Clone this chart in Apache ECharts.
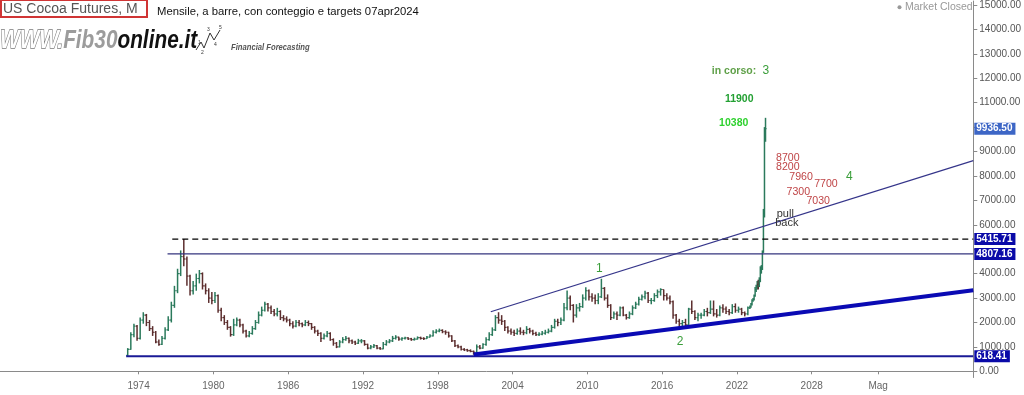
<!DOCTYPE html>
<html>
<head>
<meta charset="utf-8">
<script src="https://cdn.jsdelivr.net/npm/echarts@6/dist/echarts.min.js"></script>
<style>
html,body{margin:0;padding:0;background:#fff;}
#chart{width:1024px;height:395px;}
</style>
</head>
<body>
<div id="chart"></div>
<script>
// ---------------- DATA ----------------
// Quarterly OHLC (1973 Q1 .. 2022 Q4); open of each bar = previous close
const quarterStartYear = 1973;
const firstOpen = 650;
const qClose = [
  900,1500,1850,1350, 2100,2300,2000,1750, 1600,1200,1100,1350, 1700,2100,2700,3300,
  4000,4700,4600,3900, 3300,3500,3800,4000, 3500,3300,3000,2900, 3100,2500,2200,2000,
  1800,1500,1900,2100, 1900,1650,1450,1550, 1750,2000,2300,2500, 2750,2600,2450,2350,
  2450,2200,2150,2100, 1950,1850,2000,1950, 1900,2000,1950,1800, 1650,1550,1350,1450,
  1550,1300,1150,1000, 1200,1300,1350,1250, 1200,1150,1250,1250, 1100,950,1000,1050,
  950,920,1100,1200, 1250,1350,1400,1320, 1350,1370,1330,1300, 1320,1380,1350,1340,
  1400,1450,1600,1650, 1680,1620,1600,1450, 1250,1050,1000,900, 880,850,820,780,
  1000,950,1100,1300, 1500,1700,2200,2100, 2050,1800,1650,1600, 1550,1650,1600,1580,
  1720,1650,1550,1500, 1520,1560,1600,1650, 1800,2050,2000,2100, 2600,3000,2700,2300,
  2600,2650,3000,3300, 3050,3000,2900,3050, 3400,3000,2700,2200, 2350,2300,2600,2300,
  2200,2350,2600,2750, 2950,3050,3200,2900, 2900,3100,3250,3350, 3100,3000,2850,2300,
  2050,1950,2000,1900, 2550,2450,2200,2300, 2300,2450,2400,2550, 2350,2300,2600,2550,
  2450,2400,2650,2500, 2550,2400,2350,2600
];
const qHigh = [
  950,1600,1950,1900, 2200,2420,2350,2100, 1850,1650,1300,1450, 1800,2250,2850,3500,
  4200,4950,5420,4700, 3950,3700,4000,4150, 4050,3600,3400,3250, 3250,3150,2600,2300,
  2100,1850,2150,2200, 2150,1950,1700,1650, 1850,2100,2450,2650, 2850,2800,2700,2550,
  2600,2500,2300,2250, 2150,2050,2100,2100, 2000,2100,2080,1980, 1850,1700,1600,1550,
  1650,1600,1350,1200, 1280,1400,1450,1380, 1300,1250,1330,1320, 1280,1130,1080,1120,
  1080,1000,1200,1280, 1320,1450,1480,1420, 1400,1420,1400,1370, 1380,1430,1420,1400,
  1450,1520,1680,1720, 1750,1720,1680,1620, 1480,1280,1100,1050, 950,920,900,850,
  1100,1080,1150,1400, 1600,1800,2300,2420, 2300,2100,1850,1750, 1700,1750,1800,1700,
  1850,1780,1700,1620, 1600,1650,1700,1750, 1900,2150,2150,2200, 2800,3310,3100,2750,
  2750,2800,3150,3440, 3350,3200,3150,3200, 3790,3450,3150,2750, 2450,2450,2650,2650,
  2350,2450,2700,2850, 3050,3150,3300,3250, 3000,3200,3350,3400, 3350,3200,3100,2900,
  2350,2150,2100,2150, 2600,2900,2500,2400, 2400,2550,2600,2900, 2900,2550,2700,2750,
  2650,2550,2750,2780, 2650,2600,2450,2650
];
const qLow = [
  620,880,1400,1250, 1300,1950,1850,1650, 1450,1150,1050,1080, 1300,1650,2000,2600,
  3200,3900,4300,3500, 3100,3150,3300,3600, 3350,3150,2800,2750, 2800,2400,2050,1900,
  1700,1420,1450,1850, 1800,1550,1380,1400, 1500,1700,1950,2250, 2450,2450,2350,2250,
  2250,2100,2050,2000, 1850,1750,1800,1850, 1800,1850,1850,1700, 1550,1450,1200,1300,
  1400,1250,1050,950, 980,1150,1250,1150, 1120,1080,1120,1150, 1050,900,900,950,
  900,880,900,1050, 1150,1200,1300,1250, 1250,1300,1280,1250, 1260,1300,1300,1280,
  1320,1380,1430,1550, 1600,1560,1500,1380, 1200,1000,940,850, 830,800,780,680,
  760,900,920,1050, 1250,1450,1650,1950, 1900,1650,1550,1500, 1450,1500,1500,1480,
  1520,1550,1480,1450, 1450,1480,1500,1550, 1600,1750,1850,1900, 2050,2500,2500,2000,
  2200,2450,2600,2900, 2900,2850,2750,2750, 3000,2900,2600,2100, 2150,2100,2250,2250,
  2120,2150,2300,2550, 2700,2900,2950,2800, 2750,2850,3000,3100, 2900,2900,2750,2150,
  1950,1820,1850,1850, 1900,2350,2100,2050, 2150,2250,2250,2350, 2250,2200,2250,2400,
  2350,2300,2350,2400, 2400,2300,2250,2300
];
// Monthly OHLC (Jan 2023 .. Apr 2024)
const monthStartYear = 2023;
const mClose = [2650,2750,2900,2950,3100,3350,3450,3550,3500,3700,4150,4200,4900,6500,9850,9936.5];
const mHigh  = [2700,2800,2950,3000,3150,3450,3550,3700,3750,3850,4300,4350,4950,6650,10000,10380];
const mLow   = [2550,2600,2700,2850,2900,3050,3250,3350,3350,3450,3650,4000,4150,4850,6300,9400];

// Price levels and trendlines (year, price)
const supportLow = 618.41, resistMid = 4807.16, peakLevel = 5415.71, lastPrice = 9936.50;
const levelStarts = {support: 1973.0, resist: 1976.32, peak: 1976.70};
const upperTrend = [[2002.25, 2440], [2040.96, 8629]];
const lowerTrend = [[2000.88, 690], [2040.96, 3320]];

// Axis ticks
const yearTicks = [1974, 1980, 1986, 1992, 1998, 2004, 2010, 2016, 2022, 2028, 2033.33];
const yearTickLabels = ['1974','1980','1986','1992','1998','2004','2010','2016','2022','2028','Mag'];
const priceTicks = [0,1000,2000,3000,4000,5000,6000,7000,8000,9000,10000,11000,12000,13000,14000,15000];
const priceLabelTicks = [0,1000,2000,3000,4000,6000,7000,8000,9000,11000,12000,13000,14000,15000];

// Annotations: text, year, price
const annoText  = ['in corso:','3','11900','10380','8700','8200','7960','7700','7300','7030','4','pull','back','1','2'];
const annoYear  = [2021.76,2024.32,2022.18,2021.74,2026.08,2026.08,2027.14,2029.14,2026.92,2028.52,2031.02,2025.88,2026.0,2010.96,2017.44];
const annoPrice = [12275,12304,11148,10152,8751,8371,7934,7649,7350,6983,7975,6452,6068,4218,1196];
const annoKind  = ['wave','waveNum','target1','target0','red','red','red','red','red','red','waveNum','note','note','waveNum','waveNum'];

// ---------------- BUILD ----------------
const X_MIN = 1962.88, X_MAX = 2040.96, Y_MIN = -253, Y_MAX = 15163;
const bars = [];
let prev = firstOpen;
for (let i = 0; i < qClose.length; i++) {
  const x = quarterStartYear + i * 0.25 + 0.125;
  bars.push([x, prev, qHigh[i], qLow[i], qClose[i], 0.25]);
  prev = qClose[i];
}
for (let i = 0; i < mClose.length; i++) {
  const x = monthStartYear + i / 12 + 1 / 24;
  bars.push([x, prev, mHigh[i], mLow[i], mClose[i], 1 / 12]);
  prev = mClose[i];
}

const UP = '#2b7a5c', DOWN = '#5c2e2e';

const annoStyles = {
  wave:    {color: '#5fa048', fontWeight: 'bold', fontSize: 10.5},
  waveNum: {color: '#3a9e3a', fontWeight: 'normal', fontSize: 12},
  target1: {color: '#23a033', fontWeight: 'bold', fontSize: 10.5},
  target0: {color: '#2fd12f', fontWeight: 'bold', fontSize: 10.5},
  red:     {color: '#bf4446', fontWeight: 'normal', fontSize: 10.6},
  note:    {color: '#333333', fontWeight: 'normal', fontSize: 11}
};
const annoData = annoText.map((t, i) => ({
  value: [annoYear[i], annoPrice[i]],
  label: Object.assign({show: true, position: 'inside', formatter: t, fontFamily: 'Liberation Sans'}, annoStyles[annoKind[i]])
}));

const priceBoxes = [
  {v: lastPrice, bg: '#3d66c6'},
  {v: peakLevel, bg: '#0a0aa8'},
  {v: resistMid, bg: '#0a0aa8'},
  {v: supportLow, bg: '#0a0aa8'}
].map(b => ({
  value: [X_MAX, b.v],
  label: {show: true, position: 'right', distance: 1, formatter: b.v.toFixed(2),
    backgroundColor: b.bg, color: '#fff', fontWeight: 'bold', fontSize: 10,
    fontFamily: 'Liberation Sans', padding: [1, 3, 0, 2], lineHeight: 11}
}));

const chart = echarts.init(document.getElementById('chart'), null, {renderer: 'canvas'});
chart.setOption({
  animation: false,
  backgroundColor: '#ffffff',
  grid: {left: 0, right: 48, top: 0, bottom: 17.5, containLabel: false},
  xAxis: {
    type: 'value', min: X_MIN, max: X_MAX,
    splitLine: {show: false},
    axisLine: {show: true, lineStyle: {color: '#8a8a8a', width: 1}},
    axisTick: {show: true, length: 3, customValues: yearTicks, lineStyle: {color: '#8a8a8a'}},
    axisLabel: {
      customValues: yearTicks, margin: 4, color: '#666', fontSize: 10, fontFamily: 'Liberation Sans',
      formatter: v => { const k = yearTicks.findIndex(t => Math.abs(t - v) < 0.01); return k >= 0 ? yearTickLabels[k] : ''; }
    }
  },
  yAxis: {
    type: 'value', position: 'right', min: Y_MIN, max: Y_MAX,
    splitLine: {show: false},
    axisLine: {show: true, lineStyle: {color: '#8a8a8a', width: 1}},
    axisTick: {show: true, length: 4, customValues: priceTicks, lineStyle: {color: '#8a8a8a'}},
    axisLabel: {customValues: priceLabelTicks, margin: 6, color: '#555', fontSize: 10, fontFamily: 'Liberation Sans',
      formatter: v => v.toFixed(2)}
  },
  series: [
    {
      type: 'custom', name: 'bars', z: 2,
      data: bars, encode: {x: 0, y: [1, 2, 3, 4]},
      renderItem: function (params, api) {
        const x = api.value(0), o = api.value(1), h = api.value(2), l = api.value(3), c = api.value(4), len = api.value(5);
        const pH = api.coord([x, h]), pL = api.coord([x, l]), pO = api.coord([x, o]), pC = api.coord([x, c]);
        const w = api.size([len, 0])[0];
        const t = Math.max(1, w * 0.45);
        const color = c >= o ? UP : DOWN;
        return {type: 'group', children: [
          {type: 'line', shape: {x1: pH[0], y1: pH[1], x2: pL[0], y2: pL[1]}, style: {stroke: color, lineWidth: 1.5}},
          {type: 'line', shape: {x1: pO[0] - t, y1: pO[1], x2: pO[0], y2: pO[1]}, style: {stroke: color, lineWidth: 1.2}},
          {type: 'line', shape: {x1: pC[0], y1: pC[1], x2: pC[0] + t, y2: pC[1]}, style: {stroke: color, lineWidth: 1.2}}
        ]};
      }
    },
    {type: 'line', z: 3, silent: true, symbol: 'none', data: [[levelStarts.support, supportLow], [X_MAX, supportLow]],
      lineStyle: {color: '#1a1a96', width: 2}},
    {type: 'line', z: 3, silent: true, symbol: 'none', data: [[levelStarts.resist, resistMid], [X_MAX, resistMid]],
      lineStyle: {color: '#35357e', width: 1.3}},
    {type: 'line', z: 3, silent: true, symbol: 'none', data: [[levelStarts.peak, peakLevel], [X_MAX, peakLevel]],
      lineStyle: {color: '#000', width: 1.3, type: [6, 4]}},
    {type: 'line', z: 3, silent: true, symbol: 'none', data: upperTrend,
      lineStyle: {color: '#35358a', width: 1.2}},
    {type: 'line', z: 3, silent: true, symbol: 'none', data: lowerTrend,
      lineStyle: {color: '#0a0ab4', width: 4}},
    {type: 'scatter', z: 5, silent: true, symbolSize: 0, clip: false, itemStyle: {opacity: 1}, data: annoData},
    {type: 'scatter', z: 6, silent: true, symbolSize: 0, clip: false, itemStyle: {opacity: 1}, data: priceBoxes}
  ],
  graphic: [
    {type: 'rect', shape: {x: 1, y: 0, width: 146, height: 17}, style: {fill: '#fff', stroke: '#d03535', lineWidth: 2}, z: 10},
    {type: 'text', x: 3, y: 9, z: 11, style: {text: 'US Cocoa Futures, M', fill: '#555', font: '14px "Liberation Sans"', verticalAlign: 'middle'}},
    {type: 'text', x: 157, y: 12, z: 11, style: {text: 'Mensile, a barre, con conteggio e targets 07apr2024', fill: '#111', font: '11.3px "Liberation Sans"', verticalAlign: 'middle'}},
    {type: 'text', x: 0, y: 41, z: 11, scaleX: 0.8, style: {
      text: '{a|WWW.}{b|Fib30}{c|online.it}', verticalAlign: 'middle',
      font: 'italic bold 26px "Liberation Sans"',
      rich: {
        a: {fill: '#ffffff', stroke: '#7a7a7a', lineWidth: 1.3, font: 'italic bold 26px "Liberation Sans"'},
        b: {fill: '#9c9c9c', font: 'italic bold 26px "Liberation Sans"'},
        c: {fill: '#111111', font: 'italic bold 26px "Liberation Sans"'}
      }}},
    {type: 'polyline', z: 11, shape: {points: [[196, 50], [201, 42], [204, 48], [210, 33], [214, 40], [220, 30]]}, style: {stroke: '#333', lineWidth: 1, fill: null}},
    {type: 'text', x: 198, y: 40, z: 11, style: {text: '1', fill: '#333', font: '5px "Liberation Sans"'}},
    {type: 'text', x: 201, y: 50, z: 11, style: {text: '2', fill: '#333', font: '5px "Liberation Sans"'}},
    {type: 'text', x: 207, y: 27, z: 11, style: {text: '3', fill: '#333', font: '5px "Liberation Sans"'}},
    {type: 'text', x: 214, y: 42, z: 11, style: {text: '4', fill: '#333', font: '5px "Liberation Sans"'}},
    {type: 'text', x: 219, y: 25, z: 11, style: {text: '5', fill: '#333', font: '5px "Liberation Sans"'}},
    {type: 'text', x: 231, y: 48, z: 11, scaleX: 0.85, style: {text: 'Financial Forecasting', fill: '#555', font: 'italic bold 9px "Liberation Sans"', verticalAlign: 'middle'}},
    {type: 'circle', z: 11, shape: {cx: 899.5, cy: 7.3, r: 2}, style: {fill: '#999'}},
    {type: 'text', x: 905, y: 7.5, z: 11, style: {text: 'Market Closed', fill: '#999', font: '10.5px "Liberation Sans"', verticalAlign: 'middle'}}
  ]
});
</script>
</body>
</html>
